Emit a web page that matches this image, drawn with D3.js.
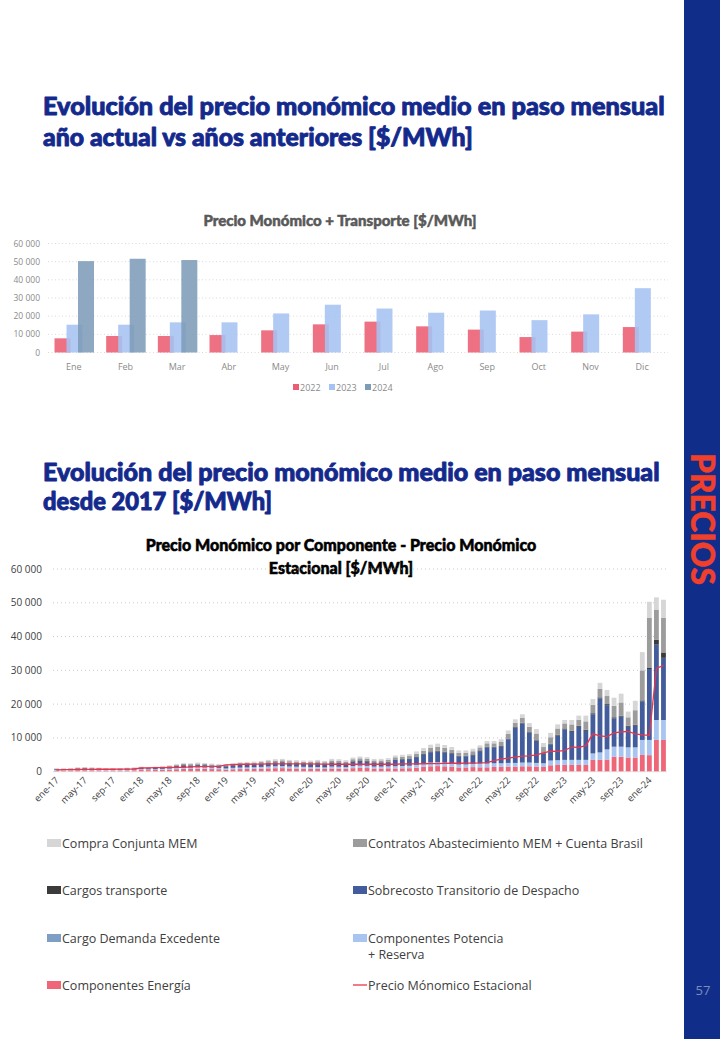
<!DOCTYPE html>
<html><head><meta charset="utf-8">
<script src="https://cdn.jsdelivr.net/npm/d3@7"></script>
<style>body{margin:0;background:#fff}svg{display:block}</style>
</head><body>
<svg id="c" width="720" height="1039"></svg>
<script>
// ---------- Top chart data ----------
const topMonths = ["Ene","Feb","Mar","Abr","May","Jun","Jul","Ago","Sep","Oct","Nov","Dic"];
const topYears = ["2022","2023","2024"];
const val2022 = [7800,9100,9100,9600,12200,15500,17000,14400,12600,8500,11500,14000];
const val2023 = [15300,15300,16600,16600,21500,26300,24200,21900,23100,17800,21000,35400];
const val2024 = [50300,51600,50900];
const yTicks = [0,10000,20000,30000,40000,50000,60000];

// ---------- Bottom chart data ----------
const months = [
"ene-17","feb-17","mar-17","abr-17","may-17","jun-17","jul-17","ago-17","sep-17","oct-17","nov-17","dic-17",
"ene-18","feb-18","mar-18","abr-18","may-18","jun-18","jul-18","ago-18","sep-18","oct-18","nov-18","dic-18",
"ene-19","feb-19","mar-19","abr-19","may-19","jun-19","jul-19","ago-19","sep-19","oct-19","nov-19","dic-19",
"ene-20","feb-20","mar-20","abr-20","may-20","jun-20","jul-20","ago-20","sep-20","oct-20","nov-20","dic-20",
"ene-21","feb-21","mar-21","abr-21","may-21","jun-21","jul-21","ago-21","sep-21","oct-21","nov-21","dic-21",
"ene-22","feb-22","mar-22","abr-22","may-22","jun-22","jul-22","ago-22","sep-22","oct-22","nov-22","dic-22",
"ene-23","feb-23","mar-23","abr-23","may-23","jun-23","jul-23","ago-23","sep-23","oct-23","nov-23","dic-23",
"ene-24","feb-24","mar-24"];
const xTickLabels = ["ene-17","may-17","sep-17","ene-18","may-18","sep-18","ene-19","may-19","sep-19","ene-20","may-20","sep-20","ene-21","may-21","sep-21","ene-22","may-22","sep-22","ene-23","may-23","sep-23","ene-24"];

const energia = [
350,340,380,420,440,420,400,380,380,380,400,430,
500,470,500,560,620,740,830,800,860,830,780,740,
620,730,780,810,840,900,980,1040,1060,980,950,920,
830,880,800,950,930,850,1050,1130,1080,950,950,1000,
960,1000,1040,1200,1400,1600,1660,1580,1460,1260,1260,1360,
1300,1300,1400,1400,1500,1500,1600,1600,1500,1400,1900,2000,
2000,2000,2000,2000,3500,3500,3600,4400,4400,4200,4200,4950,
4900,9400,9400];
const potencia = [
150,150,160,180,190,180,170,160,160,160,170,180,
210,200,210,240,270,320,360,350,380,360,340,320,
290,340,360,380,390,420,460,480,490,460,440,430,
400,420,380,460,440,410,500,540,520,460,460,480,
580,600,620,720,840,960,1000,950,880,760,760,820,
1100,1100,1100,1100,1100,1100,1100,1100,1100,1100,1400,1400,
1500,1500,1500,1500,1900,2200,3000,3000,3000,3000,3000,4450,
4500,5900,5900];
const demanda = [
20,20,20,30,30,30,30,20,20,20,30,30,
40,40,40,50,60,70,80,70,80,80,70,70,
60,80,80,90,90,100,110,110,110,110,100,100,
100,100,100,110,110,100,130,140,130,110,110,120,
100,100,100,120,140,160,170,160,150,130,130,140,
0,0,0,0,0,0,0,0,0,0,0,0,
0,0,0,0,0,0,0,0,0,0,0,0,
0,0,0];
const sobrecosto = [
200,210,230,300,340,300,260,230,230,230,260,290,
330,300,330,380,420,520,600,570,620,600,540,520,
610,730,790,810,840,890,980,1040,1070,980,950,920,
990,1050,960,1140,1110,1020,1260,1350,1290,1140,1140,1200,
1820,1900,1980,2280,2660,3040,3150,3000,2770,2390,2390,2580,
3700,4800,4700,4900,7000,10400,11600,8800,6500,2800,4800,7300,
9000,8300,9800,8600,11600,16000,13100,8400,8900,6100,6400,11400,
21000,22300,18400];
const transporte = [
50,50,50,60,60,60,60,50,50,50,60,60,
70,70,70,80,90,110,120,120,130,120,110,110,
90,100,110,120,120,130,140,150,150,140,140,130,
130,140,130,150,150,140,170,180,170,150,150,160,
140,150,160,180,210,240,250,240,220,190,190,200,
200,200,200,200,200,200,200,200,200,200,200,200,
300,300,300,300,300,300,300,300,300,300,300,300,
300,1500,1600];
const contratos = [
130,130,140,170,190,170,160,140,140,140,160,170,
200,180,200,220,250,300,340,330,350,340,310,300,
290,340,370,380,390,420,450,480,500,450,440,430,
460,490,450,530,520,480,590,630,600,530,530,560,
670,700,730,840,980,1120,1160,1110,1020,880,880,950,
900,1000,1000,1200,1400,1300,1500,1600,2000,1800,1900,1900,
1500,1900,1800,2500,2500,2500,2400,3400,3900,2500,4300,8900,
14800,8900,10200];
const compra = [
100,100,120,140,150,140,120,120,120,120,120,140,
150,140,150,170,190,240,270,260,280,270,250,240,
240,280,310,310,330,340,380,400,420,380,380,370,
390,420,380,460,440,400,500,530,510,460,460,480,
530,550,570,660,770,880,910,860,800,690,690,750,
600,700,700,800,1000,1000,1000,1100,1300,1200,1300,1200,
1000,1300,1200,1700,1700,1800,1800,2400,2600,1700,2800,5400,
4800,3600,5400];
const estacional = [
500,620,640,650,680,700,720,720,730,740,750,800,
1100,1150,1200,1200,1250,1300,1300,1400,1500,1500,1550,1550,
2000,2100,2200,2200,2250,2250,2300,2300,2300,2300,2300,2300,
2300,2250,2250,2200,2200,2200,2200,2200,2200,2200,2200,2200,
2200,2300,2300,2300,2350,2400,2400,2450,2500,2500,2550,2550,
2600,2700,3300,3700,4000,4300,4600,4700,5000,5600,6100,6000,
6300,7300,7200,7700,11200,10600,10400,11500,11800,11900,11200,10900,
10800,30600,31500];

const seriesKeys = ["energia","potencia","demanda","sobrecosto","transporte","contratos","compra"];
const seriesData = {energia, potencia, demanda, sobrecosto, transporte, contratos, compra};
const seriesColors = {energia:"#ee6678", potencia:"#a8c5f2", demanda:"#7e9fc3", sobrecosto:"#435d9c", transporte:"#3b3b3b", contratos:"#9c9c9c", compra:"#d6d6d6"};
const seriesNames = {compra:"Compra Conjunta MEM", contratos:"Contratos Abastecimiento MEM + Cuenta Brasil", transporte:"Cargos transporte", sobrecosto:"Sobrecosto Transitorio de Despacho", demanda:"Cargo Demanda Excedente", potencia:["Componentes Potencia","+ Reserva"], energia:"Componentes Energía"};
const lineName = "Precio Mónomico Estacional";

// ---------- drawing ----------
const svg = d3.select("#c");
const fmt = v => d3.format(",")(v).replace(/,/g, " ");
const NAVY = "#102d8a";
const headFont = "Lato, 'Open Sans', 'DejaVu Sans', sans-serif";
const bodyFont = "'Open Sans', Lato, sans-serif";

function fit(sel, w) {
  const cur = sel.node().getComputedTextLength();
  const fs = parseFloat(sel.attr("font-size"));
  if (cur > 0) sel.attr("font-size", fs * w / cur);
}

// sidebar
svg.append("rect").attr("x",684).attr("y",0).attr("width",36).attr("height",1039).attr("fill",NAVY);
const logo = svg.append("g");
logo.append("clipPath").attr("id","lc").append("rect").attr("x",686).attr("y",0).attr("width",34).attr("height",40);
[9,17,25,33].forEach(r => {
  logo.append("path").attr("clip-path","url(#lc)")
    .attr("d", d3.arc()({innerRadius:r-2.2, outerRadius:r+2.2, startAngle:-Math.PI/2, endAngle:0}))
    .attr("transform","translate(722,40)").attr("fill","#e8374a");
});
const prec = svg.append("text").attr("x",691).attr("y",519)
  .style("writing-mode","vertical-rl").style("text-orientation","sideways")
  .attr("text-anchor","middle").attr("font-family",headFont).attr("font-weight",900)
  .attr("font-size",24).attr("fill","#f0402c").attr("stroke","#f0402c").attr("stroke-width",0.5).text("PRECIOS");
fit(prec, 132);
svg.append("text").attr("x",703).attr("y",995).attr("text-anchor","middle").attr("font-family",bodyFont)
  .attr("font-size",13).attr("fill","#7c8db8").text("57");

// headings
function heading(lines, y0, dy, w1) {
  lines.forEach((t, i) => {
    const s = svg.append("text").attr("x",43).attr("y",y0 + i*dy).attr("font-family",headFont)
      .attr("font-weight",900).attr("font-size",21).attr("fill","#13298c")
      .attr("stroke","#13298c").attr("stroke-width",0.9).attr("stroke-linejoin","round").text(t);
    if (w1[i]) fit(s, w1[i]);
  });
}
heading(["Evolución del precio monómico medio  en paso mensual","año actual vs años anteriores [$/MWh]"], 115, 31, [622, 430]);
heading(["Evolución del precio monómico medio en paso mensual","desde 2017 [$/MWh]"], 481, 29, [617, 229]);

// ---------- top chart ----------
const xT = d3.scaleBand().domain(topMonths).range([48,668]);
const yT = d3.scaleLinear().domain([0,60000]).range([352.5,243.5]);
const gT = svg.append("g");
gT.append("text").attr("x",340).attr("y",226).attr("text-anchor","middle").attr("font-family",headFont)
  .attr("font-weight",900).attr("font-size",15).attr("fill","#595959").attr("stroke","#595959").attr("stroke-width",0.5)
  .text("Precio Monómico + Transporte [$/MWh]");
yTicks.forEach(t => {
  gT.append("line").attr("x1",48).attr("x2",668).attr("y1",yT(t)).attr("y2",yT(t))
    .attr("stroke","#cfcfcf").attr("stroke-width",0.8).attr("stroke-dasharray","1,2.5");
  gT.append("text").attr("x",40).attr("y",yT(t)+3).attr("text-anchor","end").attr("font-family",bodyFont)
    .attr("font-size",8.5).attr("fill","#8a8a8a").text(fmt(t));
});
const topColors = ["#ea5d72","#a5c3f3","#7d9cb7"];
const topOffsets = [6.5, 18.5, 30];
[val2022, val2023, val2024].forEach((arr, k) => {
  gT.selectAll(null).data(arr).enter().append("rect")
    .attr("x",(d,i)=>xT(topMonths[i]) + topOffsets[k]).attr("width",16)
    .attr("y",d=>yT(d)).attr("height",d=>yT(0)-yT(d))
    .attr("fill",topColors[k]).attr("fill-opacity",0.88);
});
topMonths.forEach(m => {
  gT.append("text").attr("x",xT(m)+xT.bandwidth()/2).attr("y",370).attr("text-anchor","middle")
    .attr("font-family",bodyFont).attr("font-size",9).attr("fill","#8a8a8a").text(m);
});
const legX = [293, 329, 365];
topYears.forEach((yv, k) => {
  gT.append("rect").attr("x",legX[k]).attr("y",384).attr("width",6).attr("height",6).attr("fill",topColors[k]);
  gT.append("text").attr("x",legX[k]+7).attr("y",390.5).attr("font-family",bodyFont).attr("font-size",9)
    .attr("fill","#8a8a8a").text(yv);
});

// ---------- bottom chart ----------
const xB = d3.scaleBand().domain(months).range([53,667]).paddingInner(0.32).paddingOuter(0.16);
const yB = d3.scaleLinear().domain([0,60000]).range([771.7,569]);
const gB = svg.append("g");
[["Precio Monómico por Componente - Precio Monómico",551],["Estacional [$/MWh]",574]].forEach(([t,y]) => {
  gB.append("text").attr("x",341).attr("y",y).attr("text-anchor","middle").attr("font-family",headFont)
    .attr("font-weight",900).attr("font-size",16).attr("fill","#000").attr("stroke","#000").attr("stroke-width",0.55).text(t);
});
yTicks.forEach(t => {
  if (t > 0) gB.append("line").attr("x1",53).attr("x2",667).attr("y1",yB(t)).attr("y2",yB(t))
    .attr("stroke","#bdbdbd").attr("stroke-width",0.8).attr("stroke-dasharray","1,3");
  gB.append("text").attr("x",42).attr("y",yB(t)+3.5).attr("text-anchor","end").attr("font-family",bodyFont)
    .attr("font-size",10).attr("fill","#404040").text(fmt(t));
});
const rows = months.map((m,i) => {
  const r = {month:m};
  seriesKeys.forEach(k => r[k] = seriesData[k][i]);
  return r;
});
const stacked = d3.stack().keys(seriesKeys)(rows);
stacked.forEach(layer => {
  gB.selectAll(null).data(layer).enter().append("rect")
    .attr("x",d=>xB(d.data.month)).attr("width",xB.bandwidth())
    .attr("y",d=>yB(d[1])).attr("height",d=>Math.max(0,yB(d[0])-yB(d[1])))
    .attr("fill",seriesColors[layer.key]);
});
gB.append("line").attr("x1",53).attr("x2",667).attr("y1",yB(0)).attr("y2",yB(0))
  .attr("stroke","#d9d9d9").attr("stroke-width",0.8);
const line = d3.line().x((d,i)=>xB(months[i])+xB.bandwidth()/2).y(d=>yB(d));
gB.append("path").attr("d",line(estacional)).attr("fill","none").attr("stroke","#e8354d").attr("stroke-width",1.3);
xTickLabels.forEach(l => {
  const cx = xB(l) + xB.bandwidth()/2;
  gB.append("text").attr("transform",`translate(${cx+3},${781}) rotate(-45)`).attr("text-anchor","end")
    .attr("font-family",bodyFont).attr("font-size",9.5).attr("fill","#404040").text(l);
});

// legend
const legRows = [843, 890, 938, 985];
const legItems = [
  {k:"compra", col:0, row:0}, {k:"contratos", col:1, row:0},
  {k:"transporte", col:0, row:1}, {k:"sobrecosto", col:1, row:1},
  {k:"demanda", col:0, row:2}, {k:"potencia", col:1, row:2},
  {k:"energia", col:0, row:3}, {k:"line", col:1, row:3}
];
const colX = [47, 353];
legItems.forEach(it => {
  const x = colX[it.col], y = legRows[it.row];
  if (it.k === "line") {
    gB.append("line").attr("x1",x).attr("x2",x+14).attr("y1",y).attr("y2",y).attr("stroke","#e8354d").attr("stroke-width",1.3);
  } else {
    gB.append("rect").attr("x",x).attr("y",y-4).attr("width",14).attr("height",8).attr("fill",seriesColors[it.k]);
  }
  const name = it.k === "line" ? lineName : seriesNames[it.k];
  const lines = Array.isArray(name) ? name : [name];
  lines.forEach((t,j) => {
    gB.append("text").attr("x",x+15).attr("y",y+4.5+j*16).attr("font-family",bodyFont).attr("font-size",12.5)
      .attr("fill","#404040").text(t);
  });
});
</script>
</body></html>
